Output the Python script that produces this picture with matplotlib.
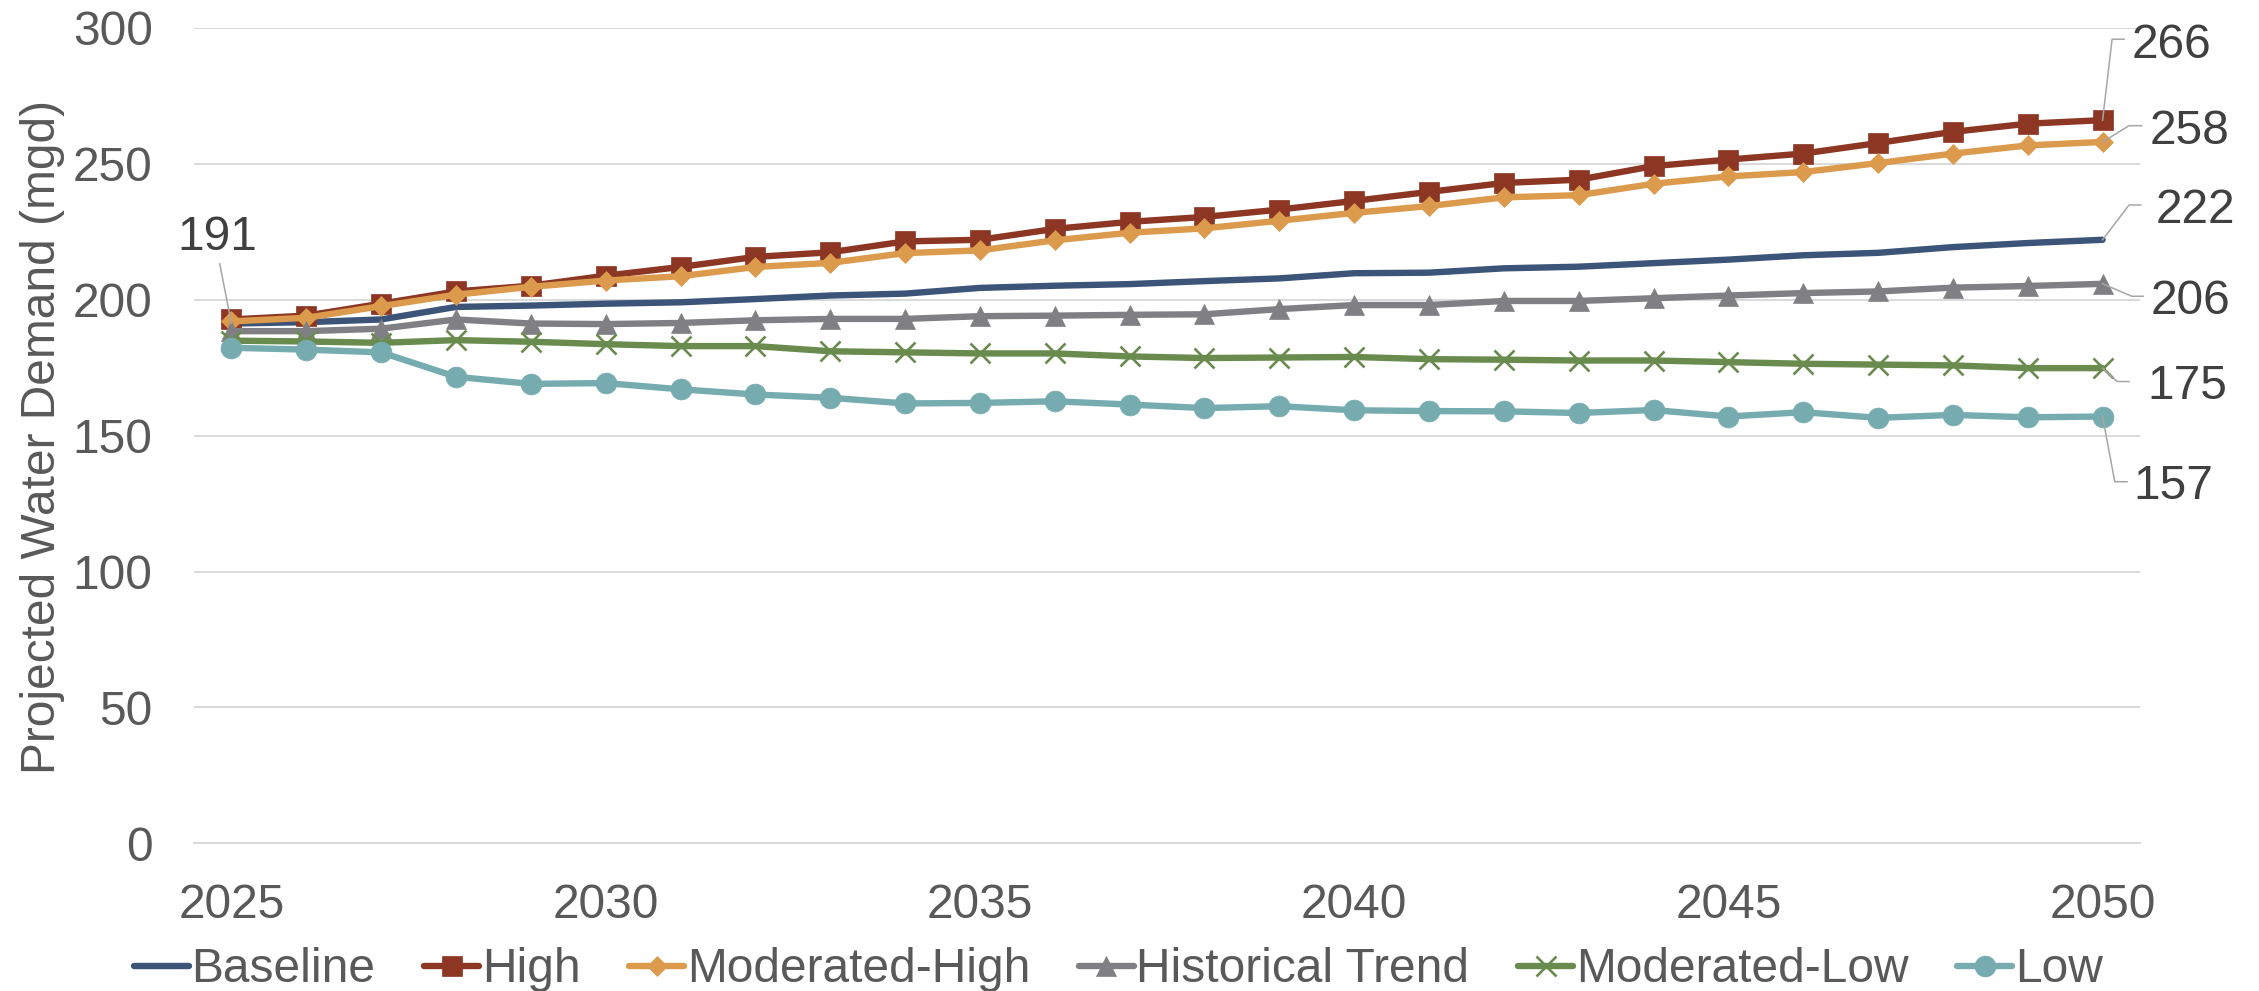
import matplotlib
matplotlib.use("Agg")
import matplotlib.pyplot as plt
from matplotlib.lines import Line2D
from matplotlib.transforms import IdentityTransform

plt.rcParams['font.family'] = ['Liberation Sans', 'DejaVu Sans']

# ---------------- data ----------------
years = list(range(2025, 2051))

baseline = [191.2, 191.7, 192.7, 197.3, 197.8, 198.5, 199.0, 200.2, 201.5, 202.2,
            204.3, 205.1, 205.7, 206.8, 207.8, 209.7, 209.9, 211.5, 212.1, 213.4,
            214.7, 216.3, 217.2, 219.3, 220.8, 222.0]
high = [192.7, 194.1, 198.5, 203.0, 205.1, 208.8, 212.0, 215.7, 217.4, 221.4,
        222.0, 226.0, 228.6, 230.4, 233.1, 236.3, 239.6, 242.9, 244.1, 249.1,
        251.5, 253.7, 257.6, 261.7, 264.7, 266.0]
moderated_high = [192.0, 193.3, 197.6, 201.8, 204.7, 207.0, 208.6, 212.0, 213.5, 217.1,
                  218.1, 221.8, 224.6, 226.2, 229.0, 231.9, 234.4, 237.6, 238.4, 242.6,
                  245.3, 246.9, 250.2, 253.7, 256.7, 258.0]
historical = [188.4, 188.4, 189.3, 192.7, 191.2, 191.0, 191.4, 192.4, 192.9, 192.9,
              193.9, 194.1, 194.4, 194.6, 196.5, 198.0, 198.0, 199.5, 199.5, 200.5,
              201.5, 202.4, 203.0, 204.4, 205.0, 205.8]
moderated_low = [184.9, 184.6, 184.1, 185.1, 184.5, 183.6, 182.9, 182.9, 181.0, 180.6,
                 180.2, 180.2, 179.1, 178.5, 178.7, 178.9, 178.1, 177.9, 177.6, 177.6,
                 177.0, 176.4, 176.1, 175.8, 174.8, 174.8]
low = [182.3, 181.6, 180.6, 171.6, 169.0, 169.3, 167.0, 165.1, 163.9, 161.8,
       162.0, 162.6, 161.4, 160.1, 160.8, 159.3, 159.0, 158.9, 158.3, 159.4,
       157.0, 158.6, 156.5, 157.6, 156.7, 157.0]

series_names = ["Baseline", "High", "Moderated-High", "Historical Trend", "Moderated-Low", "Low"]
series_values = [baseline, high, moderated_high, historical, moderated_low, low]

y_ticks = [0, 50, 100, 150, 200, 250, 300]
x_ticks = [2025, 2030, 2035, 2040, 2045, 2050]
y_label = "Projected Water Demand (mgd)"

# ---------------- style ----------------
colors = ["#3B5478", "#8C3623", "#DB9A4C", "#808084", "#6A8B4E", "#76ACB0"]
markers = [None, "s", "D", "^", "x", "o"]
msizes = [0, 14.5, 10.5, 15, 14, 15]
FS = 34.5
TICK_C = "#595959"
LABEL_C = "#404040"
LEADER_C = "#A6A6A6"

W, H = 2259, 991
fig = plt.figure(figsize=(W / 100, H / 100), dpi=100)
ax = fig.add_axes([194 / W, 1 - 843.4 / H, (2140 - 194) / W, (843.4 - 27.7) / H])

for name, vals, c, m, ms in zip(series_names, series_values, colors, markers, msizes):
    kw = dict(color=c, lw=4.6, label=name, solid_capstyle='round', solid_joinstyle='round')
    if m is not None:
        kw.update(marker=m, markersize=ms, markerfacecolor=c, markeredgecolor=c,
                  markeredgewidth=1.9 if m == "x" else 0.5)
    ax.plot(years, vals, **kw)

ax.set_xlim(2024.5, 2050.5)
ax.set_ylim(0, 300)
ax.set_yticks(y_ticks)
ax.set_xticks(x_ticks)
ax.yaxis.grid(True, color="#D9D9D9", lw=1.4)
ax.set_axisbelow(True)
for s in ["top", "right", "left"]:
    ax.spines[s].set_visible(False)
ax.spines["bottom"].set_color("#D9D9D9")
ax.spines["bottom"].set_linewidth(1.4)
ax.tick_params(axis="both", length=0, labelsize=FS, labelcolor=TICK_C)
ax.tick_params(axis="x", pad=28.5)
ax.tick_params(axis="y", pad=29.8)

fig.text(42.5 / W, 1 - 436.5 / H, y_label, rotation=90, ha="center", va="center",
         fontsize=FS, color=TICK_C)

# ---------------- data labels with leader lines ----------------
# offsets in pixels from the data point (display coords, y up)
end_offsets = {
    "High": dict(text=(29.1, 62.3), knee=(9.5, 80.9), end=21.5),
    "Moderated-High": dict(text=(47.1, -2.0), knee=(26.5, 16.2), end=39.2),
    "Baseline": dict(text=(53.1, 16.3), knee=(26.5, 34.8), end=38.2),
    "Historical Trend": dict(text=(48.1, -30.2), knee=(29.2, -12.4), end=40.5),
    "Moderated-Low": dict(text=(44.5, -31.3), knee=(14.5, -13.4), end=26.5),
    "Low": dict(text=(30.5, -82.7), knee=(12.2, -65.2), end=24.5),
}

def leader(px, py, pts):
    xs = [px] + [px + dx for dx, dy in pts]
    ys = [py] + [py + dy for dx, dy in pts]
    fig.add_artist(Line2D(xs, ys, transform=IdentityTransform(), color=LEADER_C, lw=1.1,
                          zorder=5))

for name, vals in zip(series_names, series_values):
    o = end_offsets[name]
    x, v = years[-1], vals[-1]
    px, py = ax.transData.transform((x, v))
    kx, ky = o["knee"]
    leader(px, py, [(kx, ky), (o["end"], ky)])
    ax.annotate(f"{round(v)}", xy=(x, v), xytext=o["text"], textcoords="offset pixels",
                ha="left", va="baseline", fontsize=FS, color=LABEL_C, annotation_clip=False)

# start label (Baseline 2025)
x0, v0 = years[0], baseline[0]
px, py = ax.transData.transform((x0, v0))
leader(px, py, [(-11.7, 59.8)])
ax.annotate(f"{round(v0)}", xy=(x0, v0), xytext=(-14.6, 73.6), textcoords="offset pixels",
            ha="center", va="baseline", fontsize=FS, color=LABEL_C, annotation_clip=False)

# ---------------- legend ----------------
leg = fig.legend(loc="center", bbox_to_anchor=(0.495, 1 - 970 / H), ncol=6, frameon=False,
                 fontsize=FS, handlelength=1.15, handletextpad=0.05, columnspacing=1.02,
                 borderpad=0, borderaxespad=0, numpoints=1)
for t in leg.get_texts():
    t.set_color(TICK_C)

fig.savefig("out.png", dpi=100)
